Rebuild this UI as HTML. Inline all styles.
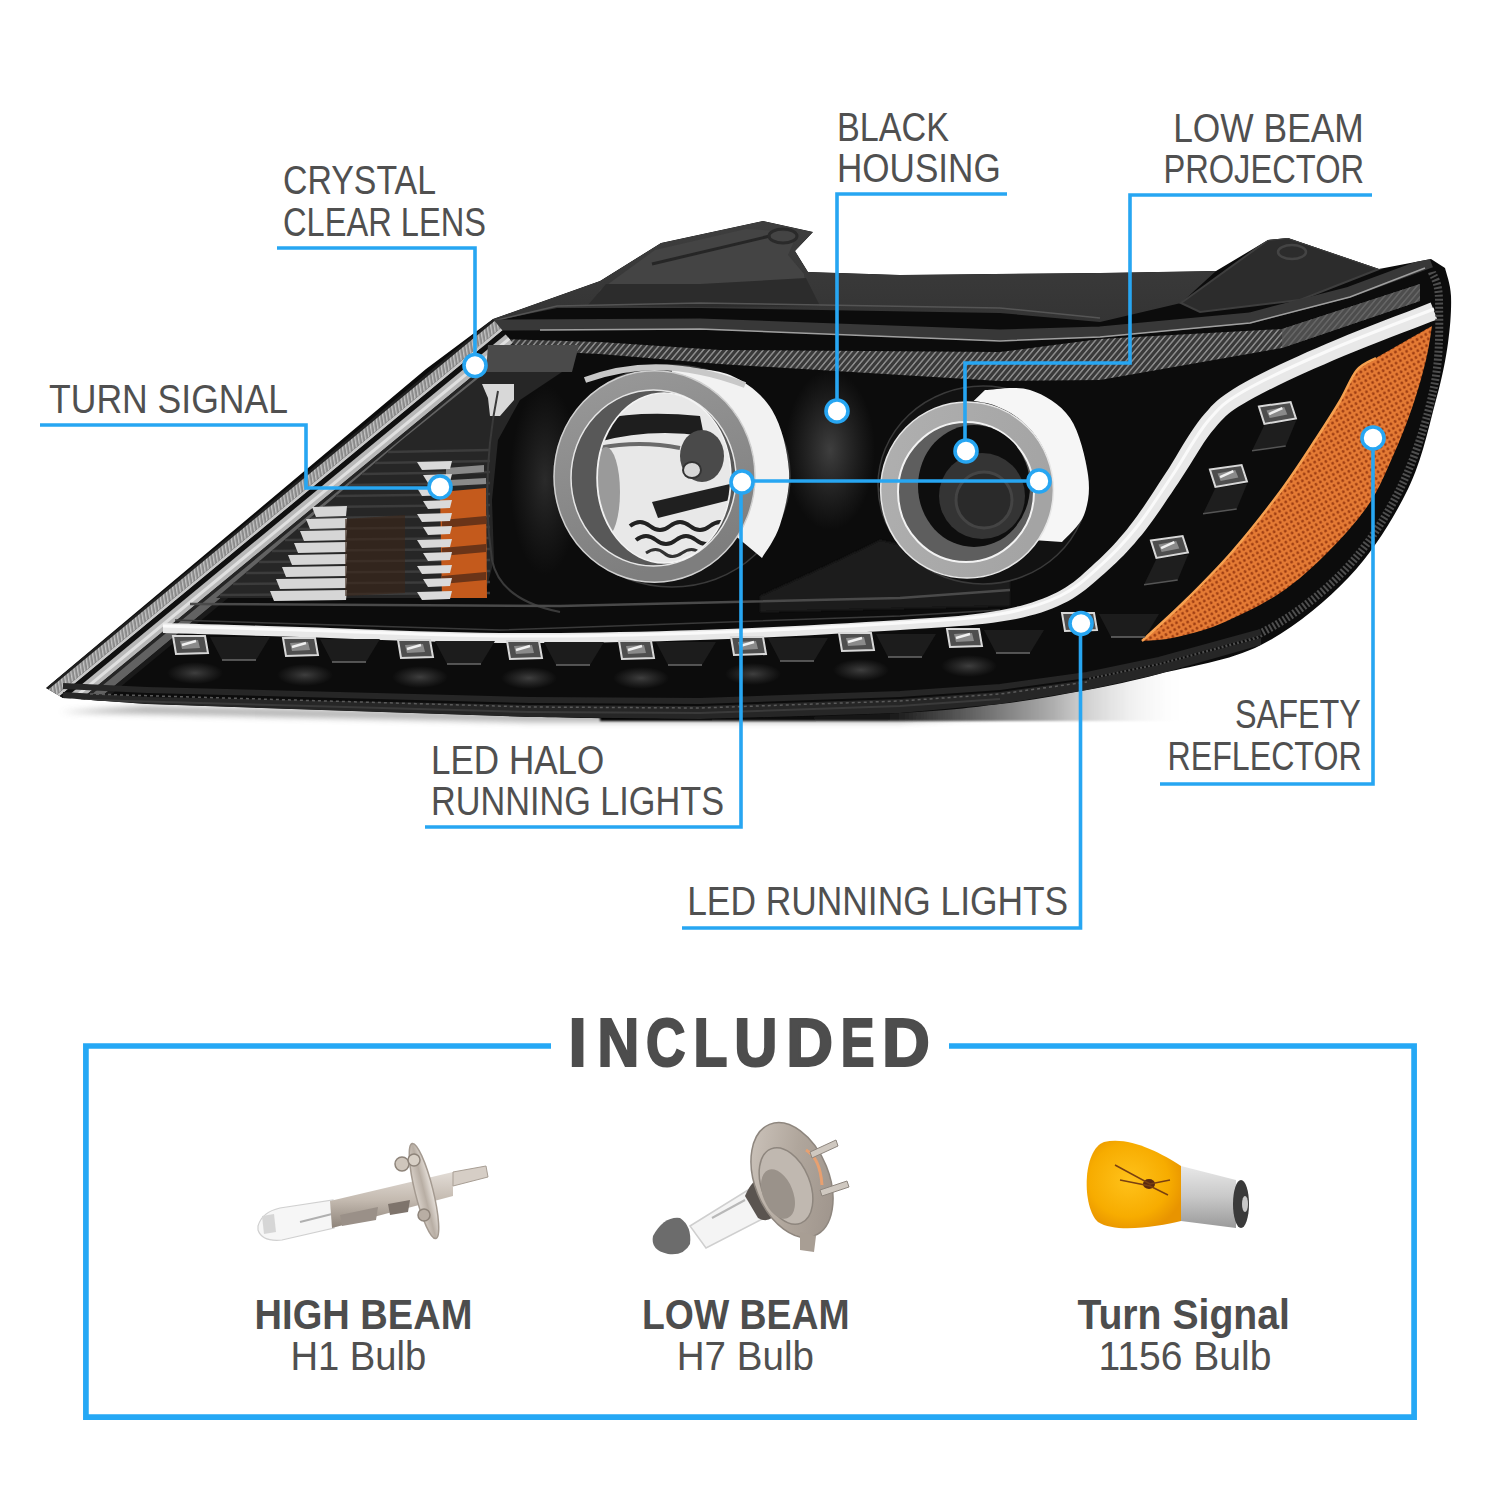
<!DOCTYPE html>
<html><head><meta charset="utf-8">
<style>
html,body{margin:0;padding:0;background:#fff;width:1500px;height:1500px;overflow:hidden}
svg{position:absolute;left:0;top:0;display:block}
.lb{font-family:"Liberation Sans",sans-serif;font-size:41px;fill:#505050}
.bd{font-family:"Liberation Sans",sans-serif;font-weight:bold;fill:#4d4d4d}
.ln{stroke:#27a6f2;stroke-width:3.6;fill:none}
.dot{fill:#fff;stroke:#27a6f2;stroke-width:3.6}
</style></head><body>
<svg width="1500" height="1500" viewBox="0 0 1500 1500">
<!-- HEADLIGHT -->
<g id="hl">
<defs>
<filter id="blur6" x="-20%" y="-200%" width="140%" height="500%"><feGaussianBlur stdDeviation="5"/></filter>
<filter id="blur3" x="-50%" y="-50%" width="200%" height="200%"><feGaussianBlur stdDeviation="3"/></filter>
<filter id="blur1"><feGaussianBlur stdDeviation="0.8"/></filter>
<pattern id="pKnurl" width="6" height="8" patternUnits="userSpaceOnUse" patternTransform="skewX(-40)">
<rect width="6" height="8" fill="#3a3a3a"/><rect x="0" width="2" height="8" fill="#8a8a8a"/></pattern>
<pattern id="pDots" width="5" height="5" patternUnits="userSpaceOnUse" patternTransform="rotate(-30)">
<rect width="5" height="5" fill="#e47a34"/><ellipse cx="2.5" cy="2.5" rx="1.3" ry="1.6" fill="#9a3a10"/></pattern>
<linearGradient id="gHouse" x1="0" y1="0" x2="0" y2="1">
<stop offset="0" stop-color="#3e3e3e"/><stop offset="1" stop-color="#343434"/></linearGradient>
<linearGradient id="gChrome" x1="0" y1="0" x2="1" y2="0.15">
<stop offset="0" stop-color="#101010"/><stop offset="0.5" stop-color="#1e1e1e"/><stop offset="0.68" stop-color="#a0a0a0"/><stop offset="0.82" stop-color="#f6f6f6"/><stop offset="1" stop-color="#dcdcdc"/></linearGradient>
<linearGradient id="gHaloL" x1="0" y1="0" x2="0.3" y2="1">
<stop offset="0" stop-color="#9a9a9a"/><stop offset="1" stop-color="#7e7e7e"/></linearGradient>
<linearGradient id="gHaloR" x1="0" y1="0" x2="1" y2="0.3">
<stop offset="0" stop-color="#b0b0b0"/><stop offset="1" stop-color="#a4a4a4"/></linearGradient>
<linearGradient id="gShadowR" gradientUnits="userSpaceOnUse" x1="650" y1="0" x2="1190" y2="0">
<stop offset="0" stop-color="#000"/><stop offset="0.45" stop-color="#1a1a1a"/><stop offset="0.75" stop-color="#b0b0b0"/><stop offset="1" stop-color="#fff" stop-opacity="0"/></linearGradient>
<linearGradient id="gShadowV" x1="0" y1="0" x2="0" y2="1"><stop offset="0" stop-color="#fff" stop-opacity="0"/><stop offset="0.6" stop-color="#fff" stop-opacity="0"/><stop offset="1" stop-color="#fff" stop-opacity="0.9"/></linearGradient>
<linearGradient id="gDRL" x1="0" y1="0" x2="0" y2="1">
<stop offset="0" stop-color="#f4f4f4"/><stop offset="1" stop-color="#cfcfcf"/></linearGradient>
</defs>
<path d="M60,712 L530,722 L900,722 L1000,716 L980,706 L530,714 L147,706 Z" fill="#9a9a9a" filter="url(#blur3)" opacity="0.8"/>
<path d="M600,712 L900,710 L1000,700 L1087,686 L1159,670 L1240,650 L1260,690 L1200,721 L600,721 Z" fill="url(#gShadowR)" filter="url(#blur1)"/>
<clipPath id="cpS"><path d="M46,688 L426,369 L493,319 L600,281 L661,243 L763,221 L813,232 L795,251 L808,272 L900,275 L1100,273 L1216,271 L1268,240 L1288,238 L1379,269 L1431,259 L1445,268 C1446.0,272.7 1450.5,283.5 1451.0,296.0 C1451.5,308.5 1450.5,325.7 1448.0,343.0 C1445.5,360.3 1442.7,375.7 1436.0,400.0 C1429.3,424.3 1422.5,459.5 1408.0,489.0 C1393.5,518.5 1373.5,551.0 1349.0,577.0 C1324.5,603.0 1292.7,628.8 1261.0,645.0 C1229.3,661.2 1188.0,666.5 1159.0,674.0 C1130.0,681.5 1113.5,685.0 1087.0,690.0 C1060.5,695.0 1031.2,700.2 1000.0,704.0 C968.8,707.8 950.0,710.5 900.0,713.0 C850.0,715.5 761.7,718.3 700.0,719.0 C638.3,719.7 558.3,717.3 530.0,717.0 L147,704 L63,698 Z"/></clipPath>
<path d="M46,688 L426,369 L493,319 L600,281 L661,243 L763,221 L813,232 L795,251 L808,272 L900,275 L1100,273 L1216,271 L1268,240 L1288,238 L1379,269 L1431,259 L1445,268 C1446.0,272.7 1450.5,283.5 1451.0,296.0 C1451.5,308.5 1450.5,325.7 1448.0,343.0 C1445.5,360.3 1442.7,375.7 1436.0,400.0 C1429.3,424.3 1422.5,459.5 1408.0,489.0 C1393.5,518.5 1373.5,551.0 1349.0,577.0 C1324.5,603.0 1292.7,628.8 1261.0,645.0 C1229.3,661.2 1188.0,666.5 1159.0,674.0 C1130.0,681.5 1113.5,685.0 1087.0,690.0 C1060.5,695.0 1031.2,700.2 1000.0,704.0 C968.8,707.8 950.0,710.5 900.0,713.0 C850.0,715.5 761.7,718.3 700.0,719.0 C638.3,719.7 558.3,717.3 530.0,717.0 L147,704 L63,698 Z" fill="#0c0c0c"/>
<g clip-path="url(#cpS)">
<path d="M108,702 L147,704 L146,712 L112,711 Z" fill="#1c1c1c"/>
<path d="M493,319 L600,281 L661,243 L763,221 L813,232 L795,251 L808,272 L900,275 L1100,273 L1216,271 L1181,303 L1100,322 L1000,313 L700,308 L557,308 L493,321 Z" fill="url(#gHouse)"/>
<path d="M600,290 L655,250 L746,229 L798,232 L788,255 L804,274 L806,292 L700,290 L596,300 Z" fill="#444"/>
<path d="M652,264 L770,236" stroke="#262626" stroke-width="3"/>
<path d="M588,305 L606,284 L700,284 L806,278 L820,306 L700,307 Z" fill="#2c2c2c"/>
<ellipse cx="783" cy="236" rx="14" ry="7" fill="none" stroke="#2a2a2a" stroke-width="3"/>
<path d="M493,321 L557,306 L700,303 L1000,308 L1100,318" fill="none" stroke="#555" stroke-width="1.5"/>
<path d="M1181,303 L1268,240 L1288,238 L1379,269 L1300,300 L1200,312 Z" fill="#2c2c2c" stroke="#3e3e3e" stroke-width="2"/>
<ellipse cx="1292" cy="252" rx="14" ry="7" fill="none" stroke="#444" stroke-width="2.5"/>
<path d="M493,325 L700,324 L1000,335 L1100,332 L1250,318 L1350,292 L1431,262" fill="none" stroke="#383838" stroke-width="11"/>
<path d="M540,330 L700,329 L1000,341 L1100,337 L1250,323 L1350,297 L1425,268" fill="none" stroke="#a0a0a0" stroke-width="1.5"/>
<path d="M470,338 L600,342 L720,350 L1000,352 L1100,339 L1282,329 L1420,284 L1420,301 L1282,348 L1100,380 L1000,381 L720,364 L600,354 L478,348 Z" fill="url(#pKnurl)"/>
<path d="M1282,329 L1420,284 L1420,301 L1282,348 Z" fill="#555" opacity="0.7"/>
<pattern id="pBand" width="4" height="7" patternUnits="userSpaceOnUse" patternTransform="rotate(-39.5) skewX(-30)"><rect width="4" height="7" fill="#8a8a8a"/><rect width="1.5" height="7" fill="#c4c4c4"/></pattern>
<path d="M46.0,688.0 L493.0,319.0 L494.6,320.9 L47.6,689.9 Z" fill="#202020"/>
<path d="M47.6,689.9 L494.6,320.9 L500.6,328.3 L53.6,697.3 Z" fill="url(#pBand)"/>
<path d="M53.6,697.3 L500.6,328.3 L502.5,330.6 L55.5,699.6 Z" fill="#c8c8c8"/>
<path d="M55.5,699.6 L502.5,330.6 L505.7,334.4 L58.7,703.4 Z" fill="#101010"/>
<path d="M58.7,703.4 L505.7,334.4 L512.7,342.9 L65.7,711.9 Z" fill="#b8b8b8"/>
<path d="M61.3,706.5 L508.3,337.5 L510.2,339.8 L63.2,708.8 Z" fill="#e0e0e0"/>
<path d="M65.7,711.9 L512.7,342.9 L514.6,345.2 L67.6,714.2 Z" fill="#262626"/>
<path d="M67.6,714.2 L514.6,345.2 L519.7,351.4 L72.7,720.4 Z" fill="#626262"/>
<path d="M72.7,720.4 L519.7,351.4 L522.6,354.9 L75.6,723.9 Z" fill="#1a1a1a"/>
<path d="M216,598 L403,439 L486,372 L562,372 L520,400 L498,440 L492,500 L494,560 L484,598 Z" fill="#262626"/>
<path d="M388,452 L490,450" stroke="#3c3c3c" stroke-width="2.5"/><path d="M375,463 L490,461" stroke="#3c3c3c" stroke-width="2.5"/><path d="M362,474 L490,472" stroke="#3c3c3c" stroke-width="2.5"/><path d="M349,485 L490,483" stroke="#3c3c3c" stroke-width="2.5"/><path d="M336,496 L490,494" stroke="#3c3c3c" stroke-width="2.5"/><path d="M323,507 L490,505" stroke="#3c3c3c" stroke-width="2.5"/><path d="M311,518 L490,516" stroke="#3c3c3c" stroke-width="2.5"/><path d="M298,529 L490,527" stroke="#3c3c3c" stroke-width="2.5"/><path d="M285,540 L490,538" stroke="#3c3c3c" stroke-width="2.5"/><path d="M272,551 L490,549" stroke="#3c3c3c" stroke-width="2.5"/><path d="M259,562 L490,560" stroke="#3c3c3c" stroke-width="2.5"/><path d="M246,573 L490,571" stroke="#3c3c3c" stroke-width="2.5"/><path d="M233,584 L490,582" stroke="#3c3c3c" stroke-width="2.5"/><path d="M220,595 L490,593" stroke="#3c3c3c" stroke-width="2.5"/>
<path d="M312,507 L347,506 L346,516 L316,517 Z" fill="#d6d6d6"/><path d="M306,519 L347,518 L346,528 L310,529 Z" fill="#d6d6d6"/><path d="M300,531 L347,530 L346,540 L304,541 Z" fill="#d6d6d6"/><path d="M294,543 L347,542 L346,552 L298,553 Z" fill="#d6d6d6"/><path d="M288,555 L347,554 L346,564 L292,565 Z" fill="#d6d6d6"/><path d="M282,567 L347,566 L346,576 L286,577 Z" fill="#d6d6d6"/><path d="M276,579 L347,578 L346,588 L280,589 Z" fill="#d6d6d6"/><path d="M270,591 L347,590 L346,600 L274,601 Z" fill="#d6d6d6"/>
<path d="M345,519 L405,515 L405,593 L345,596 Z" fill="#3a2418" opacity="0.6"/>
<path d="M440,492 L486,488 L487,598 L442,598 Z" fill="#c45a1c"/>
<path d="M446,468 L484,465 L484,472 L446,475 Z M450,480 L486,478 L486,484 L450,486 Z" fill="#8a8a8a"/>
<path d="M442,520 L486,516 L486,524 L442,528 Z M442,548 L486,544 L486,552 L442,556 Z M442,576 L486,572 L486,580 L442,584 Z" fill="#6a3418"/>
<path d="M417,462 L452,461 L450,469 L422,470 Z" fill="#dadada"/><path d="M423,475 L452,474 L450,482 L428,483 Z" fill="#dadada"/><path d="M417,488 L452,487 L450,495 L422,496 Z" fill="#dadada"/><path d="M423,501 L452,500 L450,508 L428,509 Z" fill="#dadada"/><path d="M417,514 L452,513 L450,521 L422,522 Z" fill="#dadada"/><path d="M423,527 L452,526 L450,534 L428,535 Z" fill="#dadada"/><path d="M417,540 L452,539 L450,547 L422,548 Z" fill="#dadada"/><path d="M423,553 L452,552 L450,560 L428,561 Z" fill="#dadada"/><path d="M417,566 L452,565 L450,573 L422,574 Z" fill="#dadada"/><path d="M423,579 L452,578 L450,586 L428,587 Z" fill="#dadada"/><path d="M417,592 L452,591 L450,599 L422,600 Z" fill="#dadada"/>
<path d="M488,345 L579,345 L572,372 L486,372 Z" fill="#4a4a4a"/>
<path d="M482,384 L514,384 L514,400 L500,416 L490,416 L488,398 Z" fill="#d8d8d8"/>
<radialGradient id="gGlow"><stop offset="0" stop-color="#444" stop-opacity="0.9"/><stop offset="1" stop-color="#3a3a3a" stop-opacity="0"/></radialGradient>
<ellipse cx="830" cy="450" rx="45" ry="80" fill="url(#gGlow)"/>
<path d="M760,596 Q840,560 880,540 L1010,570 L1010,606 L760,612 Z" fill="#1c1c1c" filter="url(#blur1)"/>
<ellipse cx="545" cy="480" rx="35" ry="95" fill="url(#gGlow)" opacity="0.6"/>
<path d="M498,391 Q480,480 492,560 Q500,600 560,612" fill="none" stroke="#3a3a3a" stroke-width="2"/>
<ellipse cx="672" cy="476" rx="118" ry="111" fill="#121212" stroke="#3a3a3a" stroke-width="1.5"/>
<path d="M672.0,367.0 C681.7,368.3 713.3,367.8 730.0,375.0 C746.7,382.2 762.2,394.0 772.0,410.0 C781.8,426.0 787.7,451.8 789.0,471.0 C790.3,490.2 784.5,510.5 780.0,525.0 C775.5,539.5 765.0,552.5 762.0,558.0 L736.8,537.1 C738.1,535.0 742.1,528.6 744.2,524.1 C746.4,519.6 748.2,514.9 749.8,510.2 C751.3,505.4 752.5,500.5 753.4,495.5 C754.2,490.6 754.8,485.5 754.9,480.5 C755.1,475.4 754.9,470.3 754.4,465.3 C753.9,460.3 753.1,455.3 751.9,450.4 C750.7,445.5 749.2,440.7 747.3,436.1 C745.5,431.4 743.3,426.8 740.9,422.5 C738.5,418.2 735.7,414.0 732.7,410.1 C729.7,406.2 726.4,402.4 722.9,399.0 C719.3,395.6 715.6,392.4 711.6,389.5 C707.7,386.7 703.5,384.1 699.2,381.8 C694.9,379.6 690.5,377.7 685.9,376.1 C681.4,374.5 674.3,373.0 672.0,372.4 Z" fill="#f2f2f2"/>
<path d="M585,380 Q660,352 745,385" fill="none" stroke="#c8c8c8" stroke-width="6"/>
<ellipse cx="654.5" cy="476.5" rx="100.5" ry="105.7" fill="url(#gHaloL)" stroke="#d0d0d0" stroke-width="1.5"/>
<ellipse cx="653.5" cy="478" rx="82.5" ry="88" fill="#585858" stroke="#e6e6e6" stroke-width="1.5"/>
<ellipse cx="664" cy="478" rx="67" ry="85" fill="#e8e8e8" stroke="#f4f4f4" stroke-width="1.5"/>
<clipPath id="cpRefl"><ellipse cx="664" cy="478" rx="66" ry="84"/></clipPath><g clip-path="url(#cpRefl)">
<path d="M596,420 Q640,410 700,416 L704,436 Q650,428 598,442 Z" fill="#1e1e1e"/>
<path d="M598,448 Q640,440 680,448" fill="none" stroke="#6a6a6a" stroke-width="4"/>
<ellipse cx="606" cy="492" rx="14" ry="45" fill="#9a9a9a"/>
<ellipse cx="702" cy="456" rx="22" ry="26" fill="#4a4a4a"/>
<ellipse cx="692" cy="470" rx="9" ry="8" fill="#d8d8d8" stroke="#333" stroke-width="2"/>
<path d="M652,502 L730,484 L730,500 L658,518 Z" fill="#202020"/>
<path d="M630,526 q10,-8 20,0 t20,0 t20,0 t20,0 t20,0" fill="none" stroke="#222" stroke-width="4"/>
<path d="M636,540 q10,-8 20,0 t20,0 t20,0 t20,0" fill="none" stroke="#222" stroke-width="4"/>
<path d="M646,553 q10,-7 18,0 t18,0 t18,0" fill="none" stroke="#333" stroke-width="3"/>
</g>
<ellipse cx="983" cy="485" rx="105" ry="99" fill="#121212" stroke="#3a3a3a" stroke-width="1.5"/>
<path d="M985.0,390.0 C992.5,390.0 1015.8,385.3 1030.0,390.0 C1044.2,394.7 1060.3,403.8 1070.0,418.0 C1079.7,432.2 1085.7,458.8 1088.0,475.0 C1090.3,491.2 1088.3,503.8 1084.0,515.0 C1079.7,526.2 1065.7,537.5 1062.0,542.0 L1036.4,540.3 C1037.5,538.4 1041.3,533.0 1043.3,529.0 C1045.3,525.1 1047.0,521.0 1048.4,516.8 C1049.8,512.7 1050.9,508.3 1051.7,504.0 C1052.4,499.6 1052.9,495.2 1053.0,490.8 C1053.1,486.4 1052.9,481.9 1052.3,477.5 C1051.8,473.2 1050.9,468.8 1049.7,464.6 C1048.5,460.3 1047.0,456.1 1045.2,452.1 C1043.4,448.1 1041.2,444.2 1038.8,440.5 C1036.5,436.8 1033.8,433.2 1030.9,430.0 C1028.0,426.7 1024.8,423.6 1021.4,420.8 C1018.1,418.0 1014.5,415.4 1010.7,413.1 C1007.0,410.8 1003.0,408.8 999.0,407.2 C995.0,405.5 990.8,404.1 986.5,403.1 C982.3,402.0 975.7,401.3 973.6,400.9 Z" fill="#f6f6f6"/>
<ellipse cx="967" cy="490" rx="86.4" ry="88" fill="url(#gHaloR)" stroke="#e6e6e6" stroke-width="1.5"/>
<ellipse cx="966" cy="492" rx="68" ry="70" fill="#5e5e5e" stroke="#f2f2f2" stroke-width="2"/>
<ellipse cx="974" cy="486" rx="56" ry="61" fill="#0e0e0e"/>
<circle cx="982" cy="496" r="43" fill="#343434"/>
<circle cx="984" cy="500" r="28" fill="#2a2a2a" stroke="#444" stroke-width="3"/>
<path d="M190,604 L560,606 L900,598 L1010,590" fill="none" stroke="#4a4a4a" stroke-width="2.5"/>
<path d="M175,620 L500,630 L900,616 L1000,610" fill="none" stroke="#3a3a3a" stroke-width="1.5"/>
<path d="M162.9,633.0 L170.7,633.2 L180.5,633.5 L191.9,633.8 L204.8,634.2 L218.9,634.6 L233.9,635.1 L249.8,635.5 L266.2,636.0 L283.0,636.5 L299.8,637.0 L317.3,637.6 L335.8,638.2 L355.2,638.9 L375.3,639.7 L395.9,640.4 L416.8,641.1 L437.9,641.8 L458.9,642.3 L479.6,642.8 L500.0,643.0 L520.0,643.1 L540.0,643.1 L560.0,643.0 L580.1,642.8 L600.1,642.5 L620.1,642.1 L640.1,641.7 L660.1,641.2 L680.1,640.6 L700.2,640.0 L720.6,639.3 L741.8,638.4 L763.4,637.5 L785.0,636.5 L806.5,635.4 L827.5,634.3 L847.6,633.1 L866.7,632.0 L884.4,631.0 L900.3,630.0 L914.5,629.1 L927.4,628.3 L939.0,627.5 L949.5,626.7 L959.2,626.1 L968.2,625.4 L976.7,624.6 L984.9,623.8 L992.9,622.8 L1000.9,621.6 L1008.8,620.3 L1016.1,618.9 L1023.0,617.4 L1029.4,615.8 L1035.5,614.2 L1041.4,612.4 L1046.9,610.4 L1052.3,608.4 L1057.6,606.2 L1062.8,603.8 L1068.0,601.3 L1072.8,598.5 L1077.3,595.6 L1081.6,592.6 L1085.7,589.5 L1089.6,586.3 L1093.5,583.1 L1097.2,579.8 L1100.9,576.5 L1104.7,573.2 L1108.5,569.8 L1112.3,566.3 L1116.1,562.7 L1119.8,559.1 L1123.5,555.4 L1127.2,551.5 L1130.8,547.6 L1134.5,543.4 L1138.1,539.1 L1141.9,534.7 L1145.6,529.9 L1149.3,525.0 L1153.0,519.9 L1156.7,514.7 L1160.4,509.4 L1164.1,504.0 L1167.7,498.6 L1171.4,493.2 L1175.0,487.8 L1178.6,482.4 L1182.3,476.8 L1186.0,471.0 L1189.7,465.2 L1193.4,459.3 L1197.0,453.4 L1200.6,447.8 L1204.1,442.3 L1207.6,437.2 L1211.1,432.6 L1214.5,428.4 L1217.8,424.6 L1220.7,421.3 L1223.4,418.4 L1225.9,416.0 L1228.5,413.7 L1231.3,411.5 L1234.5,409.2 L1238.3,406.7 L1243.0,403.9 L1248.5,400.7 L1254.8,397.2 L1261.9,393.5 L1269.6,389.6 L1277.9,385.5 L1286.6,381.3 L1295.7,377.1 L1305.0,372.8 L1314.5,368.6 L1324.1,364.4 L1333.5,360.3 L1343.6,356.0 L1354.7,351.5 L1366.5,346.8 L1378.6,342.0 L1390.6,337.3 L1402.3,332.8 L1413.1,328.7 L1422.8,325.0 L1431.0,321.8 L1437.3,319.4 L1430.7,302.6 L1424.5,305.0 L1416.3,308.2 L1406.7,311.9 L1395.8,316.0 L1384.1,320.5 L1372.0,325.2 L1359.8,330.0 L1347.9,334.8 L1336.7,339.4 L1326.5,343.7 L1316.8,347.9 L1307.2,352.1 L1297.6,356.4 L1288.1,360.8 L1278.9,365.0 L1270.0,369.3 L1261.5,373.5 L1253.6,377.5 L1246.2,381.4 L1239.5,385.3 L1233.8,388.8 L1228.9,391.9 L1224.5,394.9 L1220.7,397.7 L1217.3,400.6 L1214.1,403.5 L1211.0,406.6 L1208.1,409.9 L1204.9,413.5 L1201.5,417.6 L1197.7,422.4 L1194.0,427.7 L1190.3,433.2 L1186.6,438.9 L1183.0,444.8 L1179.4,450.8 L1175.9,456.7 L1172.4,462.5 L1168.9,468.2 L1165.4,473.6 L1161.8,479.0 L1158.2,484.5 L1154.7,489.9 L1151.1,495.4 L1147.6,500.7 L1144.1,506.0 L1140.6,511.1 L1137.1,516.1 L1133.6,520.8 L1130.1,525.3 L1126.7,529.7 L1123.3,533.8 L1119.8,537.8 L1116.4,541.7 L1113.0,545.4 L1109.6,549.0 L1106.1,552.5 L1102.6,556.0 L1099.0,559.4 L1095.3,562.8 L1091.6,566.2 L1088.0,569.6 L1084.4,572.8 L1080.9,576.0 L1077.3,579.0 L1073.6,581.9 L1069.9,584.6 L1065.9,587.3 L1061.7,589.8 L1057.2,592.2 L1052.4,594.5 L1047.5,596.7 L1042.5,598.7 L1037.4,600.6 L1032.0,602.5 L1026.2,604.2 L1020.2,605.9 L1013.6,607.4 L1006.6,609.0 L999.1,610.4 L991.3,611.8 L983.5,612.9 L975.5,614.0 L967.2,615.0 L958.3,615.9 L948.7,616.8 L938.3,617.5 L926.7,618.3 L913.9,619.1 L899.7,620.0 L883.7,621.0 L866.1,622.1 L847.1,623.2 L826.9,624.3 L806.0,625.4 L784.6,626.5 L762.9,627.5 L741.4,628.4 L720.3,629.3 L699.8,630.0 L679.9,630.6 L659.9,631.2 L639.9,631.7 L619.9,632.1 L599.9,632.5 L579.9,632.8 L560.0,633.0 L540.0,633.1 L520.0,633.1 L500.0,633.0 L479.8,632.8 L459.1,632.3 L438.2,631.8 L417.1,631.2 L396.2,630.4 L375.6,629.7 L355.6,628.9 L336.1,628.2 L317.6,627.6 L300.2,627.0 L283.3,626.5 L266.5,626.0 L250.1,625.5 L234.2,625.1 L219.1,624.6 L205.1,624.2 L192.2,623.8 L180.8,623.5 L171.0,623.2 L163.1,623.0 Z" fill="#e8e8e8"/>
<path d="M163,626 C185.8,626.7 243.8,628.3 300.0,630.0 C356.2,631.7 433.3,635.5 500.0,636.0 C566.7,636.5 633.3,635.2 700.0,633.0 C766.7,630.8 850.0,626.2 900.0,623.0 C950.0,619.8 973.3,618.5 1000.0,614.0 C1026.7,609.5 1043.3,604.0 1060.0,596.0 C1076.7,588.0 1087.3,577.3 1100.0,566.0 C1112.7,554.7 1124.0,543.0 1136.0,528.0 C1148.0,513.0 1160.0,493.8 1172.0,476.0 C1184.0,458.2 1196.0,435.2 1208.0,421.0 C1220.0,406.8 1223.7,402.8 1244.0,391.0 C1264.3,379.2 1298.3,363.7 1330.0,350.0 C1361.7,336.3 1416.7,315.8 1434.0,309.0" fill="none" stroke="#fafafa" stroke-width="3"/>
<path d="M1432,326 C1431.0,331.7 1429.3,346.3 1426.0,360.0 C1422.7,373.7 1417.5,392.0 1412.0,408.0 C1406.5,424.0 1400.2,440.0 1393.0,456.0 C1385.8,472.0 1379.8,488.0 1369.0,504.0 C1358.2,520.0 1342.8,537.2 1328.0,552.0 C1313.2,566.8 1298.0,581.0 1280.0,593.0 C1262.0,605.0 1238.0,616.5 1220.0,624.0 C1202.0,631.5 1185.0,635.2 1172.0,638.0 C1159.0,640.8 1147.0,640.5 1142.0,641.0 C1149.0,634.5 1169.0,616.8 1184.0,602.0 C1199.0,587.2 1216.0,570.3 1232.0,552.0 C1248.0,533.7 1266.0,510.8 1280.0,492.0 C1294.0,473.2 1306.0,454.2 1316.0,439.0 C1326.0,423.8 1333.2,412.5 1340.0,401.0 C1346.8,389.5 1351.0,377.2 1357.0,370.0 C1363.0,362.8 1363.5,365.3 1376.0,358.0 C1388.5,350.7 1422.7,331.3 1432.0,326.0 Z" fill="url(#pDots)"/>
<path d="M1142,641 C1149.0,634.5 1169.0,616.8 1184.0,602.0 C1199.0,587.2 1216.0,570.3 1232.0,552.0 C1248.0,533.7 1266.0,510.8 1280.0,492.0 C1294.0,473.2 1306.0,454.2 1316.0,439.0 C1326.0,423.8 1333.2,412.5 1340.0,401.0 C1346.8,389.5 1351.0,377.2 1357.0,370.0 C1363.0,362.8 1372.8,360.0 1376.0,358.0" fill="none" stroke="#f6a050" stroke-width="2.5"/>
<path d="M1432,272 C1433.2,276.7 1438.7,280.8 1439.0,300.0 C1439.3,319.2 1440.5,355.5 1434.0,387.0 C1427.5,418.5 1415.5,457.8 1400.0,489.0 C1384.5,520.2 1365.2,549.5 1341.0,574.0 C1316.8,598.5 1286.2,621.0 1255.0,636.0 C1223.8,651.0 1182.0,656.8 1154.0,664.0 C1126.0,671.2 1098.2,676.5 1087.0,679.0" fill="none" stroke="#4e4e4e" stroke-width="8" stroke-dasharray="2 2"/>
<g transform="translate(190,645) rotate(0)"><path d="M20,-8 L80,-8 L66,15 L32,15 Z" fill="#1c1c1c"/><path d="M32,15 L66,15" stroke="#6a6a6a" stroke-width="1.5"/><path d="M-17,-9 L15,-9 L18,8 L-14,9 Z" fill="#4e4e4e" stroke="#d8d8d8" stroke-width="2"/><path d="M-10,-4 L8,-5 L10,3 L-8,4 Z" fill="#8a8a8a"/><path d="M-8,0 L6,-4" stroke="#f0f0f0" stroke-width="2.5"/></g><ellipse cx="195" cy="673" rx="28" ry="11" fill="url(#gGlow)"/><g transform="translate(300,647) rotate(0)"><path d="M20,-8 L80,-8 L66,15 L32,15 Z" fill="#1c1c1c"/><path d="M32,15 L66,15" stroke="#6a6a6a" stroke-width="1.5"/><path d="M-17,-9 L15,-9 L18,8 L-14,9 Z" fill="#4e4e4e" stroke="#d8d8d8" stroke-width="2"/><path d="M-10,-4 L8,-5 L10,3 L-8,4 Z" fill="#8a8a8a"/><path d="M-8,0 L6,-4" stroke="#f0f0f0" stroke-width="2.5"/></g><ellipse cx="305" cy="675" rx="28" ry="11" fill="url(#gGlow)"/><g transform="translate(415,649) rotate(0)"><path d="M20,-8 L80,-8 L66,15 L32,15 Z" fill="#1c1c1c"/><path d="M32,15 L66,15" stroke="#6a6a6a" stroke-width="1.5"/><path d="M-17,-9 L15,-9 L18,8 L-14,9 Z" fill="#4e4e4e" stroke="#d8d8d8" stroke-width="2"/><path d="M-10,-4 L8,-5 L10,3 L-8,4 Z" fill="#8a8a8a"/><path d="M-8,0 L6,-4" stroke="#f0f0f0" stroke-width="2.5"/></g><ellipse cx="420" cy="677" rx="28" ry="11" fill="url(#gGlow)"/><g transform="translate(524,650) rotate(0)"><path d="M20,-8 L80,-8 L66,15 L32,15 Z" fill="#1c1c1c"/><path d="M32,15 L66,15" stroke="#6a6a6a" stroke-width="1.5"/><path d="M-17,-9 L15,-9 L18,8 L-14,9 Z" fill="#4e4e4e" stroke="#d8d8d8" stroke-width="2"/><path d="M-10,-4 L8,-5 L10,3 L-8,4 Z" fill="#8a8a8a"/><path d="M-8,0 L6,-4" stroke="#f0f0f0" stroke-width="2.5"/></g><ellipse cx="529" cy="678" rx="28" ry="11" fill="url(#gGlow)"/><g transform="translate(636,650) rotate(0)"><path d="M20,-8 L80,-8 L66,15 L32,15 Z" fill="#1c1c1c"/><path d="M32,15 L66,15" stroke="#6a6a6a" stroke-width="1.5"/><path d="M-17,-9 L15,-9 L18,8 L-14,9 Z" fill="#4e4e4e" stroke="#d8d8d8" stroke-width="2"/><path d="M-10,-4 L8,-5 L10,3 L-8,4 Z" fill="#8a8a8a"/><path d="M-8,0 L6,-4" stroke="#f0f0f0" stroke-width="2.5"/></g><ellipse cx="641" cy="678" rx="28" ry="11" fill="url(#gGlow)"/><g transform="translate(748,646) rotate(0)"><path d="M20,-8 L80,-8 L66,15 L32,15 Z" fill="#1c1c1c"/><path d="M32,15 L66,15" stroke="#6a6a6a" stroke-width="1.5"/><path d="M-17,-9 L15,-9 L18,8 L-14,9 Z" fill="#4e4e4e" stroke="#d8d8d8" stroke-width="2"/><path d="M-10,-4 L8,-5 L10,3 L-8,4 Z" fill="#8a8a8a"/><path d="M-8,0 L6,-4" stroke="#f0f0f0" stroke-width="2.5"/></g><ellipse cx="753" cy="674" rx="28" ry="11" fill="url(#gGlow)"/><g transform="translate(856,642) rotate(0)"><path d="M20,-8 L80,-8 L66,15 L32,15 Z" fill="#1c1c1c"/><path d="M32,15 L66,15" stroke="#6a6a6a" stroke-width="1.5"/><path d="M-17,-9 L15,-9 L18,8 L-14,9 Z" fill="#4e4e4e" stroke="#d8d8d8" stroke-width="2"/><path d="M-10,-4 L8,-5 L10,3 L-8,4 Z" fill="#8a8a8a"/><path d="M-8,0 L6,-4" stroke="#f0f0f0" stroke-width="2.5"/></g><ellipse cx="861" cy="670" rx="28" ry="11" fill="url(#gGlow)"/><g transform="translate(964,638) rotate(0)"><path d="M20,-8 L80,-8 L66,15 L32,15 Z" fill="#1c1c1c"/><path d="M32,15 L66,15" stroke="#6a6a6a" stroke-width="1.5"/><path d="M-17,-9 L15,-9 L18,8 L-14,9 Z" fill="#4e4e4e" stroke="#d8d8d8" stroke-width="2"/><path d="M-10,-4 L8,-5 L10,3 L-8,4 Z" fill="#8a8a8a"/><path d="M-8,0 L6,-4" stroke="#f0f0f0" stroke-width="2.5"/></g><ellipse cx="969" cy="666" rx="28" ry="11" fill="url(#gGlow)"/><g transform="translate(1079,622) rotate(0)"><path d="M20,-8 L80,-8 L66,15 L32,15 Z" fill="#1c1c1c"/><path d="M32,15 L66,15" stroke="#6a6a6a" stroke-width="1.5"/><path d="M-17,-9 L15,-9 L18,8 L-14,9 Z" fill="#4e4e4e" stroke="#d8d8d8" stroke-width="2"/><path d="M-10,-4 L8,-5 L10,3 L-8,4 Z" fill="#8a8a8a"/><path d="M-8,0 L6,-4" stroke="#f0f0f0" stroke-width="2.5"/></g><g transform="translate(1169,547) rotate(-8)"><path d="M-14,10 L18,10 L4,34 L-30,34 Z" fill="#1e1e1e"/><path d="M-30,34 L4,34" stroke="#555" stroke-width="1.5"/><path d="M-17,-9 L15,-9 L18,8 L-14,9 Z" fill="#4e4e4e" stroke="#d8d8d8" stroke-width="2"/><path d="M-10,-4 L8,-5 L10,3 L-8,4 Z" fill="#8a8a8a"/><path d="M-8,0 L6,-4" stroke="#f0f0f0" stroke-width="2.5"/></g><g transform="translate(1228,476) rotate(-8)"><path d="M-14,10 L18,10 L4,34 L-30,34 Z" fill="#1e1e1e"/><path d="M-30,34 L4,34" stroke="#555" stroke-width="1.5"/><path d="M-17,-9 L15,-9 L18,8 L-14,9 Z" fill="#4e4e4e" stroke="#d8d8d8" stroke-width="2"/><path d="M-10,-4 L8,-5 L10,3 L-8,4 Z" fill="#8a8a8a"/><path d="M-8,0 L6,-4" stroke="#f0f0f0" stroke-width="2.5"/></g><g transform="translate(1277,413) rotate(-8)"><path d="M-14,10 L18,10 L4,34 L-30,34 Z" fill="#1e1e1e"/><path d="M-30,34 L4,34" stroke="#555" stroke-width="1.5"/><path d="M-17,-9 L15,-9 L18,8 L-14,9 Z" fill="#4e4e4e" stroke="#d8d8d8" stroke-width="2"/><path d="M-10,-4 L8,-5 L10,3 L-8,4 Z" fill="#8a8a8a"/><path d="M-8,0 L6,-4" stroke="#f0f0f0" stroke-width="2.5"/></g>
<path d="M63,692 L147,697 L530,705 L700,706 L900,699 L1000,692 L1087,680 L1159,665 L1261,638 L1261,645 L1159,674 L1087,690 L1000,704 L900,713 L700,719 L530,717 L147,704 L63,698 Z" fill="#262626"/>
<path d="M63,686 L147,690 L530,700 L700,701 L900,694 L1000,687 L1087,675 L1159,660 L1261,632" fill="none" stroke="#262626" stroke-width="6"/>
<path d="M90,694 L530,707 L700,708 L900,701 L1000,694 L1087,682" fill="none" stroke="#5a5a5a" stroke-width="1.5" stroke-dasharray="3 3"/>
<path d="M90,700 L530,712 L700,713 L900,706 L1000,699" fill="none" stroke="#3a3a3a" stroke-width="2"/>
</g>
</g>
<!-- CALLOUT LINES -->
<g class="ln">
<polyline points="277,248 475,248 475,365.5"/>
<polyline points="40,425 306,425 306,488 440,488"/>
<polyline points="1007,194 837,194 837,411"/>
<polyline points="1372,195 1130,195 1130,363 965,363 965,451"/>
<polyline points="1039,481 741,481 741,827 425,827"/>
<polyline points="1080.5,623 1080.5,928 682,928"/>
<polyline points="1373,438 1373,784 1160,784"/>
</g>
<g>
<circle class="dot" cx="475" cy="365.5" r="11"/>
<circle class="dot" cx="440" cy="487" r="11"/>
<circle class="dot" cx="837" cy="411" r="11"/>
<circle class="dot" cx="966" cy="451" r="11"/>
<circle class="dot" cx="742" cy="482" r="11"/>
<circle class="dot" cx="1039" cy="481" r="11"/>
<circle class="dot" cx="1081" cy="623.5" r="11"/>
<circle class="dot" cx="1373" cy="438" r="11"/>
</g>
<!-- LABELS -->
<text class="lb" x="283" y="194.4" textLength="153" lengthAdjust="spacingAndGlyphs">CRYSTAL</text>
<text class="lb" x="283" y="235.6" textLength="203" lengthAdjust="spacingAndGlyphs">CLEAR LENS</text>
<text class="lb" x="49" y="413" textLength="239" lengthAdjust="spacingAndGlyphs">TURN SIGNAL</text>
<text class="lb" x="837" y="140.6" textLength="112" lengthAdjust="spacingAndGlyphs">BLACK</text>
<text class="lb" x="837" y="181.7" textLength="163.7" lengthAdjust="spacingAndGlyphs">HOUSING</text>
<text class="lb" x="1173.2" y="142" textLength="190.6" lengthAdjust="spacingAndGlyphs">LOW BEAM</text>
<text class="lb" x="1163.4" y="182.7" textLength="200.7" lengthAdjust="spacingAndGlyphs">PROJECTOR</text>
<text class="lb" x="1235" y="727.7" textLength="125.8" lengthAdjust="spacingAndGlyphs">SAFETY</text>
<text class="lb" x="1167.6" y="769.8" textLength="194" lengthAdjust="spacingAndGlyphs">REFLECTOR</text>
<text class="lb" x="431" y="773.6" textLength="173.3" lengthAdjust="spacingAndGlyphs">LED HALO</text>
<text class="lb" x="431" y="814.5" textLength="293" lengthAdjust="spacingAndGlyphs">RUNNING LIGHTS</text>
<text class="lb" x="687.2" y="915.3" textLength="381" lengthAdjust="spacingAndGlyphs">LED RUNNING LIGHTS</text>
<g id="bulbs">
<defs>
<linearGradient id="gMetal" x1="0" y1="0" x2="0" y2="1">
<stop offset="0" stop-color="#e2dcd6"/><stop offset="0.5" stop-color="#c4bab0"/><stop offset="1" stop-color="#8e847a"/></linearGradient>
<linearGradient id="gFlange" x1="0" y1="0" x2="1" y2="0">
<stop offset="0" stop-color="#d8d0c8"/><stop offset="0.5" stop-color="#b8aea4"/><stop offset="1" stop-color="#e8e2dc"/></linearGradient>
<radialGradient id="gAmber" cx="0.45" cy="0.45" r="0.6">
<stop offset="0" stop-color="#ffc21a"/><stop offset="0.7" stop-color="#f7ac00"/><stop offset="1" stop-color="#e89400"/></radialGradient>
<linearGradient id="gBase" x1="0" y1="0" x2="0" y2="1">
<stop offset="0" stop-color="#e8e8e8"/><stop offset="0.5" stop-color="#c8c8c8"/><stop offset="1" stop-color="#9a9a9a"/></linearGradient>
<linearGradient id="gH7" x1="0" y1="0" x2="1" y2="1">
<stop offset="0" stop-color="#d2cac2"/><stop offset="0.5" stop-color="#b0a69c"/><stop offset="1" stop-color="#9a9088"/></linearGradient>
</defs>
<!-- H1 -->
<path d="M258,1226 Q262,1212 280,1208 L333,1200 L334,1228 L282,1240 Q262,1242 258,1230 Z" fill="#f6f6f6" stroke="#d0d0d0" stroke-width="1.2"/>
<path d="M262,1216 L274,1214 L276,1232 L264,1234 Z" fill="#d6d6d6"/>
<path d="M300,1222 L332,1214" stroke="#b0b0b0" stroke-width="2"/>
<path d="M330,1201 L453,1172 L453,1196 L332,1228 Z" fill="url(#gMetal)"/>
<path d="M340,1215 L378,1207 L376,1220 L342,1226 Z" fill="#9a9088"/>
<path d="M388,1204 L410,1200 L408,1212 L390,1215 Z" fill="#7e746c"/>
<path d="M453,1172 L486,1166 L488,1177 L453,1186 Z" fill="#d6cec6" stroke="#a89e94" stroke-width="1"/>
<ellipse cx="424" cy="1191" rx="9" ry="49" transform="rotate(-14 424 1191)" fill="url(#gFlange)" stroke="#a49a90" stroke-width="1.5"/>
<circle cx="402" cy="1164" r="7" fill="#cfc6bc" stroke="#8e847a" stroke-width="1.5"/>
<circle cx="414" cy="1160" r="6" fill="#d8d0c6" stroke="#8e847a" stroke-width="1.5"/>
<circle cx="424" cy="1215" r="6" fill="#b8aea4" stroke="#8e847a" stroke-width="1.5"/>
<!-- H7 -->
<path d="M690,1226 L748,1190 L770,1215 L706,1248 Z" fill="#f4f4f4" stroke="#cfcfcf" stroke-width="1.5"/>
<path d="M712,1218 L745,1200" stroke="#b8b8b8" stroke-width="2"/>
<path d="M653,1236 Q664,1216 680,1218 Q692,1226 690,1244 Q684,1256 668,1254 Q650,1250 653,1236 Z" fill="#6c6c6c"/>
<path d="M745,1196 Q755,1172 770,1180 L778,1210 Q770,1225 758,1218 Z" fill="#5a5450"/>
<ellipse cx="792" cy="1180" rx="37" ry="60" transform="rotate(-22 792 1180)" fill="url(#gH7)" stroke="#8e867e" stroke-width="1.5"/>
<ellipse cx="786" cy="1186" rx="24" ry="40" transform="rotate(-22 786 1186)" fill="#c0b8b0" stroke="#8e867e" stroke-width="1.5"/>
<ellipse cx="778" cy="1194" rx="15" ry="26" transform="rotate(-22 778 1194)" fill="#9a928a"/>
<path d="M806,1150 Q820,1158 822,1185" stroke="#e8a070" stroke-width="3" fill="none"/>
<path d="M810,1152 L836,1140 L838,1146 L812,1158 Z" fill="#cfc8c0" stroke="#8e867e" stroke-width="1"/>
<path d="M820,1190 L847,1181 L849,1187 L822,1196 Z" fill="#cfc8c0" stroke="#8e867e" stroke-width="1"/>
<path d="M800,1232 L816,1236 L814,1252 L800,1250 Z" fill="#a89e94"/>
<!-- 1156 -->
<path d="M1181,1166 C1160,1152 1128,1136 1104,1142 C1082,1150 1082,1208 1098,1222 C1116,1234 1160,1226 1181,1221 Z" fill="url(#gAmber)"/>
<path d="M1181,1166 L1236,1180 L1236,1228 L1181,1221 Z" fill="url(#gBase)"/>
<ellipse cx="1241" cy="1204" rx="8" ry="24" fill="#3a3a3a"/>
<ellipse cx="1245" cy="1204" rx="3" ry="8" fill="#c8c8c8"/>
<ellipse cx="1149" cy="1184" rx="6" ry="5" fill="#5a2a10"/>
<path d="M1115,1165 L1150,1184 L1170,1180 M1120,1180 L1150,1186 L1168,1195" stroke="#7a4010" stroke-width="1.5" fill="none"/>
</g>
<!--ENDBULBS-->
<!-- INCLUDED BOX -->
<polyline points="551,1046 85.9,1046 85.9,1417.1 1414.1,1417.1 1414.1,1046 949,1046" style="fill:none;stroke:#25a8f5;stroke-width:5.7"/>
<g><text class="bd" transform="matrix(0.963 0 0 1 568.6 0)" x="0" y="1066" style="font-size:68px;stroke:#4d4d4d;stroke-width:2.2">I</text><text class="bd" transform="matrix(0.850 0 0 1 597.6 0)" x="0" y="1066" style="font-size:68px;stroke:#4d4d4d;stroke-width:2.2">N</text><text class="bd" transform="matrix(0.803 0 0 1 646.1 0)" x="0" y="1066" style="font-size:68px;stroke:#4d4d4d;stroke-width:2.2">C</text><text class="bd" transform="matrix(0.816 0 0 1 693.4 0)" x="0" y="1066" style="font-size:68px;stroke:#4d4d4d;stroke-width:2.2">L</text><text class="bd" transform="matrix(0.879 0 0 1 734.2 0)" x="0" y="1066" style="font-size:68px;stroke:#4d4d4d;stroke-width:2.2">U</text><text class="bd" transform="matrix(0.953 0 0 1 786.2 0)" x="0" y="1066" style="font-size:68px;stroke:#4d4d4d;stroke-width:2.2">D</text><text class="bd" transform="matrix(0.744 0 0 1 840.7 0)" x="0" y="1066" style="font-size:68px;stroke:#4d4d4d;stroke-width:2.2">E</text><text class="bd" transform="matrix(0.976 0 0 1 881.9 0)" x="0" y="1066" style="font-size:68px;stroke:#4d4d4d;stroke-width:2.2">D</text></g>
<text class="bd" x="254.6" y="1328.9" style="font-size:42px" textLength="217.9" lengthAdjust="spacingAndGlyphs">HIGH BEAM</text>
<text class="bd" x="642" y="1328.8" style="font-size:42px" textLength="207.6" lengthAdjust="spacingAndGlyphs">LOW BEAM</text>
<text class="bd" x="1077.4" y="1329.2" style="font-size:42px" textLength="212.6" lengthAdjust="spacingAndGlyphs">Turn Signal</text>
<text class="lb" x="290.4" y="1370" textLength="135.9" lengthAdjust="spacingAndGlyphs">H1 Bulb</text>
<text class="lb" x="676.8" y="1370" textLength="137.1" lengthAdjust="spacingAndGlyphs">H7 Bulb</text>
<text class="lb" x="1098.4" y="1369.7" textLength="173" lengthAdjust="spacingAndGlyphs">1156 Bulb</text>
</svg>
</body></html>
